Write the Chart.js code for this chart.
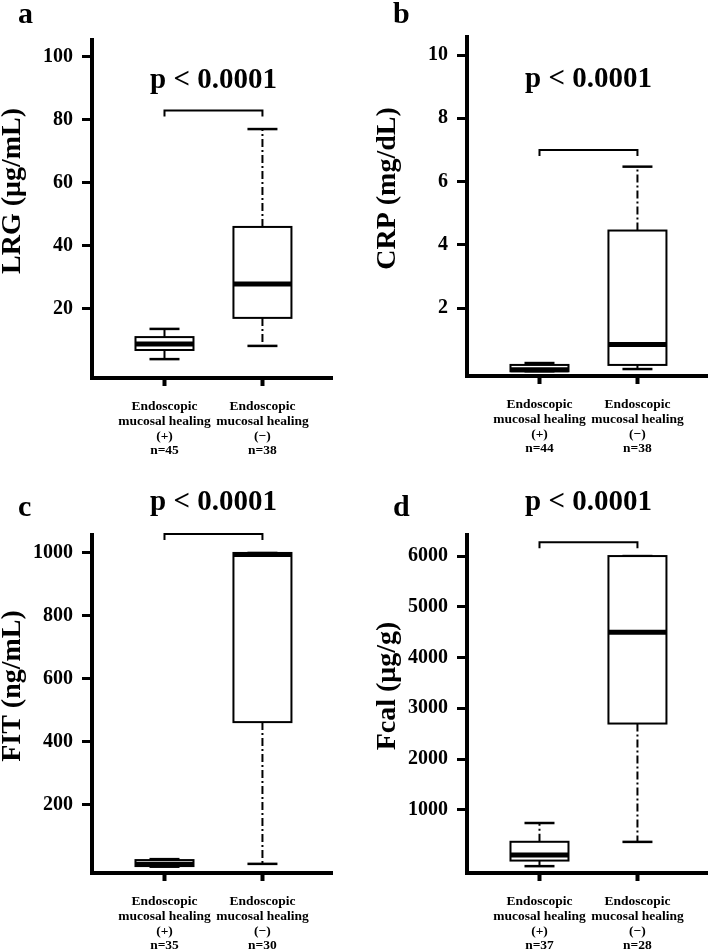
<!DOCTYPE html>
<html>
<head>
<meta charset="utf-8">
<script src="https://cdn.jsdelivr.net/npm/chart.js@4.4.1/dist/chart.umd.min.js"></script>
<style>
  html, body { margin: 0; padding: 0; background: #fff; }
  #fig { position: relative; width: 709px; height: 952px; }
  #fig canvas { position: absolute; }
</style>
</head>
<body>
<div id="fig">
  <canvas id="pa" width="354" height="470" style="left:0;top:0"></canvas>
  <canvas id="pb" width="354" height="470" style="left:355px;top:0"></canvas>
  <canvas id="pc" width="354" height="482" style="left:0;top:470px"></canvas>
  <canvas id="pd" width="354" height="482" style="left:355px;top:470px"></canvas>
</div>
<script>
// ── Data ─────────────────────────────────────────────────────────────────────
const GROUP_LINES = [
  ["Endoscopic", "mucosal healing", "(+)"],
  ["Endoscopic", "mucosal healing", "(\u2212)"]
];
const P_LABEL = "p < 0.0001";

// a: LRG (µg/mL)
const LRG_N      = [45, 38];
const LRG_MIN    = [4.0, 8.2];
const LRG_Q1     = [6.9, 17.1];
const LRG_MEDIAN = [8.8, 27.9];
const LRG_Q3     = [11.0, 46.0];
const LRG_MAX    = [13.6, 77.1];
const LRG_TICKS  = [20, 40, 60, 80, 100];

// b: CRP (mg/dL)
const CRP_N      = [44, 38];
const CRP_MIN    = [0.0, 0.07];
const CRP_Q1     = [0.0, 0.2];
const CRP_MEDIAN = [0.05, 0.85];
const CRP_Q3     = [0.2, 4.45];
const CRP_MAX    = [0.26, 6.47];
const CRP_TICKS  = [2, 4, 6, 8, 10];

// c: FIT (ng/mL)
const FIT_N      = [35, 30];
const FIT_MIN    = [4, 13];
const FIT_Q1     = [6, 463];
const FIT_MEDIAN = [12, 995];
const FIT_Q3     = [25, 1000];
const FIT_MAX    = [28, 1000];
const FIT_TICKS  = [200, 400, 600, 800, 1000];

// d: Fcal (µg/g)
const FCAL_N      = [37, 28];
const FCAL_MIN    = [-110, 368];
const FCAL_Q1     = [0, 2700];
const FCAL_MEDIAN = [110, 4500];
const FCAL_Q3     = [370, 6000];
const FCAL_MAX    = [740, 6000];
const FCAL_TICKS  = [1000, 2000, 3000, 4000, 5000, 6000];

// ── Styling ──────────────────────────────────────────────────────────────────
const FONT = "'Liberation Serif', 'Times New Roman', Times, serif";
const BOX_HALF = 29;
const CAP_HALF = 15;

function line(ctx, x1, y1, x2, y2) {
  ctx.beginPath();
  ctx.moveTo(x1, y1);
  ctx.lineTo(x2, y2);
  ctx.stroke();
}

function boxPanel(id, p) {
  const boxPlugin = {
    id: "boxes",
    afterDatasetsDraw(chart) {
      const { ctx, scales: { x, y } } = chart;
      ctx.save();
      ctx.strokeStyle = "#000";
      for (let i = 0; i < p.median.length; i++) {
        const cx = x.getPixelForValue(i);
        const yMin = y.getPixelForValue(p.min[i]);
        const yQ1  = y.getPixelForValue(p.q1[i]);
        const yMed = y.getPixelForValue(p.median[i]);
        const yQ3  = y.getPixelForValue(p.q3[i]);
        const yMax = y.getPixelForValue(p.max[i]);

        // whiskers (dash-dot)
        ctx.lineWidth = 2;
        ctx.setLineDash([8, 3, 2, 3]);
        if (p.max[i] > p.q3[i]) line(ctx, cx, yQ3, cx, yMax);
        if (p.min[i] < p.q1[i]) line(ctx, cx, yQ1, cx, yMin);
        ctx.setLineDash([]);

        // caps
        ctx.lineWidth = 2.5;
        line(ctx, cx - CAP_HALF, yMax, cx + CAP_HALF, yMax);
        line(ctx, cx - CAP_HALF, yMin, cx + CAP_HALF, yMin);

        // box
        ctx.fillStyle = "#fff";
        ctx.fillRect(cx - BOX_HALF, yQ3, BOX_HALF * 2, yQ1 - yQ3);
        ctx.lineWidth = 2;
        ctx.strokeRect(cx - BOX_HALF, yQ3, BOX_HALF * 2, yQ1 - yQ3);

        // median
        ctx.lineWidth = 5;
        line(ctx, cx - BOX_HALF, yMed, cx + BOX_HALF, yMed);
      }

      // significance bracket
      const bx0 = x.getPixelForValue(0);
      const bx1 = x.getPixelForValue(1);
      const by = y.getPixelForValue(p.bracketY);
      ctx.lineWidth = 2;
      ctx.beginPath();
      ctx.moveTo(bx0, by + 6);
      ctx.lineTo(bx0, by);
      ctx.lineTo(bx1, by);
      ctx.lineTo(bx1, by + 6);
      ctx.stroke();
      ctx.restore();
    },
    afterDraw(chart) {
      const { ctx, chartArea: area, scales: { x, y } } = chart;
      ctx.save();
      ctx.fillStyle = "#000";

      // p value
      ctx.font = `bold 29px ${FONT}`;
      ctx.textAlign = "center";
      ctx.textBaseline = "alphabetic";
      ctx.fillText(P_LABEL, x.getPixelForValue(0.5), y.getPixelForValue(p.pY));

      // panel letter
      ctx.font = `bold 30px ${FONT}`;
      ctx.textAlign = "left";
      ctx.fillText(p.letter, area.left - 74, p.letterBase);

      // y axis title
      ctx.translate(area.left - 79, (area.top + area.bottom) / 2 - 18);
      ctx.rotate(-Math.PI / 2);
      ctx.font = `bold 28px ${FONT}`;
      ctx.textAlign = "center";
      ctx.textBaseline = "middle";
      ctx.fillText(p.title, 0, 0);
      ctx.restore();
    }
  };

  return new Chart(document.getElementById(id), {
    type: "scatter",
    data: { datasets: [] },
    options: {
      responsive: false,
      animation: false,
      layout: { padding: { top: p.top, right: p.right, left: 0, bottom: 0 } },
      plugins: { legend: { display: false }, tooltip: { enabled: false } },
      scales: {
        x: {
          type: "linear",
          min: -0.74,
          max: 1.71,
          afterBuildTicks: (s) => { s.ticks = [0, 1].map((v) => ({ value: v })); },
          afterFit: (s) => { s.height = p.xHeight; },
          border: { display: true, width: 4, color: "#000" },
          grid: { drawOnChartArea: false, drawTicks: true, tickLength: 8, tickWidth: 4, tickColor: "#000" },
          ticks: {
            autoSkip: false, maxRotation: 0, minRotation: 0, padding: 13, color: "#000",
            font: { family: FONT, weight: "bold", size: 13.5, lineHeight: 1.1 },
            callback: (v) => [...GROUP_LINES[v], "n=" + p.n[v]]
          }
        },
        y: {
          type: "linear",
          min: p.yMin,
          max: p.yMax,
          afterBuildTicks: (s) => { s.ticks = p.ticks.map((v) => ({ value: v })); },
          afterFit: (s) => { s.width = p.yWidth; },
          border: { display: true, width: 4, color: "#000" },
          grid: { drawOnChartArea: false, drawTicks: true, tickLength: 10, tickWidth: 3, tickColor: "#000" },
          ticks: {
            padding: 9, color: "#000",
            font: { family: FONT, weight: "bold", size: 20 },
            callback: (v) => String(v)
          }
        }
      }
    },
    plugins: [boxPlugin]
  });
}

boxPanel("pa", {
  letter: "a", title: "LRG (\u03bcg/mL)", n: LRG_N,
  min: LRG_MIN, q1: LRG_Q1, median: LRG_MEDIAN, q3: LRG_Q3, max: LRG_MAX, ticks: LRG_TICKS,
  yMin: -2, yMax: 105.4, bracketY: 83, pY: 90.3,
  top: 40, right: 22, yWidth: 92, xHeight: 92, letterBase: 23
});
boxPanel("pb", {
  letter: "b", title: "CRP (mg/dL)", n: CRP_N,
  min: CRP_MIN, q1: CRP_Q1, median: CRP_MEDIAN, q3: CRP_Q3, max: CRP_MAX, ticks: CRP_TICKS,
  yMin: -0.15, yMax: 10.57, bracketY: 7.0, pY: 9.0,
  top: 37, right: 2, yWidth: 112, xHeight: 94, letterBase: 23
});
boxPanel("pc", {
  letter: "c", title: "FIT (ng/mL)", n: FIT_N,
  min: FIT_MIN, q1: FIT_Q1, median: FIT_MEDIAN, q3: FIT_Q3, max: FIT_MAX, ticks: FIT_TICKS,
  yMin: -16, yMax: 1057, bracketY: 1060, pY: 1136,
  top: 65, right: 22, yWidth: 92, xHeight: 79, letterBase: 46
});
boxPanel("pd", {
  letter: "d", title: "Fcal (\u03bcg/g)", n: FCAL_N,
  min: FCAL_MIN, q1: FCAL_Q1, median: FCAL_MEDIAN, q3: FCAL_Q3, max: FCAL_MAX, ticks: FCAL_TICKS,
  yMin: -245, yMax: 6415, bracketY: 6270, pY: 6909,
  top: 65, right: 2, yWidth: 112, xHeight: 79, letterBase: 46
});
</script>
</body>
</html>
